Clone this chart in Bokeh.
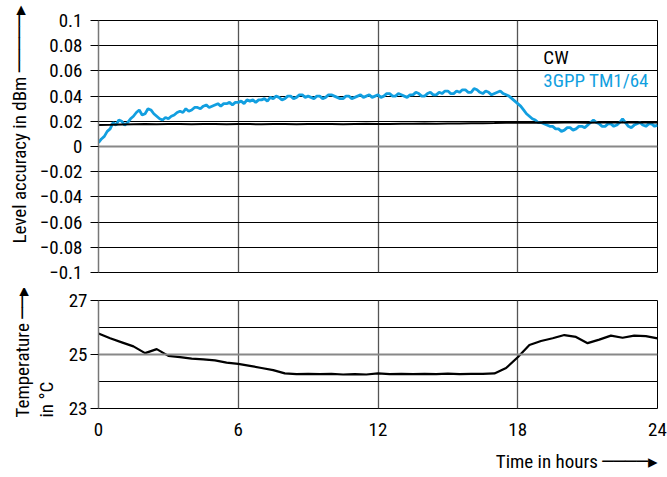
from bokeh.plotting import figure
from bokeh.layouts import column
from bokeh.models import FixedTicker, Span, Label, Range1d, Title
from bokeh.embed import file_html
from bokeh.resources import INLINE

# ---------------- data ----------------
# level accuracy, 3GPP TM1/64 (dB), one value every 1/8 hour
blue_v = [
    0.003, 0.006, 0.008, 0.012, 0.014, 0.019, 0.017, 0.021,   # 0 h
    0.020, 0.017, 0.019, 0.022, 0.024, 0.027, 0.029, 0.025,   # 1 h
    0.026, 0.030, 0.029, 0.026, 0.024, 0.022, 0.021, 0.023,   # 2 h
    0.022, 0.024, 0.025, 0.027, 0.028, 0.027, 0.030, 0.028,   # 3 h
    0.029, 0.031, 0.031, 0.030, 0.032, 0.033, 0.031, 0.032,   # 4 h
    0.033, 0.034, 0.032, 0.034, 0.034, 0.035, 0.033, 0.035,   # 5 h
    0.035, 0.036, 0.034, 0.037, 0.036, 0.037, 0.035, 0.037,   # 6 h
    0.037, 0.038, 0.036, 0.039, 0.038, 0.040, 0.039, 0.037,   # 7 h
    0.038, 0.040, 0.040, 0.038, 0.039, 0.041, 0.041, 0.039,   # 8 h
    0.040, 0.039, 0.038, 0.040, 0.040, 0.038, 0.039, 0.041,   # 9 h
    0.041, 0.040, 0.039, 0.038, 0.038, 0.040, 0.040, 0.038,   # 10 h
    0.039, 0.040, 0.041, 0.039, 0.040, 0.041, 0.039, 0.040,   # 11 h
    0.041, 0.039, 0.040, 0.042, 0.042, 0.040, 0.040, 0.042,   # 12 h
    0.041, 0.040, 0.039, 0.041, 0.041, 0.043, 0.042, 0.040,   # 13 h
    0.040, 0.042, 0.043, 0.041, 0.041, 0.043, 0.042, 0.044,   # 14 h
    0.044, 0.042, 0.042, 0.044, 0.043, 0.045, 0.045, 0.043,   # 15 h
    0.043, 0.046, 0.045, 0.043, 0.042, 0.044, 0.043, 0.041,   # 16 h
    0.042, 0.043, 0.044, 0.042, 0.041, 0.040, 0.038, 0.036,   # 17 h
    0.034, 0.032, 0.029, 0.026, 0.024, 0.022, 0.021, 0.019,   # 18 h
    0.019, 0.018, 0.017, 0.016, 0.016, 0.014, 0.014, 0.012,   # 19 h
    0.013, 0.015, 0.015, 0.013, 0.014, 0.016, 0.016, 0.015,   # 20 h
    0.017, 0.019, 0.021, 0.019, 0.018, 0.016, 0.016, 0.018,   # 21 h
    0.018, 0.016, 0.017, 0.019, 0.022, 0.019, 0.016, 0.015,   # 22 h
    0.017, 0.018, 0.019, 0.017, 0.016, 0.018, 0.018, 0.016,   # 23 h
    0.017]                                                    # 24 h
blue_t = [i / 8 for i in range(len(blue_v))]

# level accuracy, CW (dB), one value every 1/2 hour
cw_v = [0.0170, 0.0172, 0.0175, 0.0177, 0.0178, 0.0176, 0.0179, 0.0178, 0.0177, 0.0179,
        0.0178, 0.0177, 0.0179, 0.0178, 0.0176, 0.0178, 0.0179, 0.0177, 0.0178, 0.0179,
        0.0178, 0.0177, 0.0179, 0.0180, 0.0178, 0.0179, 0.0181, 0.0180, 0.0182, 0.0181,
        0.0183, 0.0182, 0.0184, 0.0185, 0.0186, 0.0188, 0.0190, 0.0189, 0.0190, 0.0189,
        0.0190, 0.0191, 0.0189, 0.0190, 0.0191, 0.0190, 0.0191, 0.0190, 0.0191]
cw_t = [i / 2 for i in range(len(cw_v))]

# temperature (deg C), one value every 1/2 hour
temp_v = [25.78, 25.60, 25.45, 25.30, 25.05, 25.20, 24.95, 24.90, 24.85, 24.82,
          24.78, 24.70, 24.65, 24.58, 24.50, 24.42, 24.30, 24.27, 24.28, 24.27,
          24.28, 24.26, 24.27, 24.26, 24.30, 24.27, 24.28, 24.27, 24.28, 24.27,
          24.29, 24.27, 24.28, 24.28, 24.30, 24.50, 24.90, 25.35, 25.50, 25.60,
          25.72, 25.65, 25.42, 25.55, 25.70, 25.62, 25.70, 25.68, 25.60]
temp_t = [i / 2 for i in range(len(temp_v))]

x_ticks = [0, 6, 12, 18, 24]
top_ticks = [-0.1, -0.08, -0.06, -0.04, -0.02, 0, 0.02, 0.04, 0.06, 0.08, 0.1]
top_tick_labels = ["\u22120.1", "\u22120.08", "\u22120.06", "\u22120.04", "\u22120.02", "0",
                   "0.02", "0.04", "0.06", "0.08", "0.1"]
temp_ticks = [23, 25, 27]
series_names = ["CW", "3GPP TM1/64"]

FONT = "Liberation Sans Narrow, Roboto Condensed, DejaVu Sans, sans-serif"
BLUE = "#129fe0"
FS = "19px"
ARROW = "\u2500" * 5 + "\u25b8"
X_ARROW = "\u2500" * 4 + "\u25b8"
SHORT_ARROW = "\u2500" * 2 + "\u25b8"


def style_axis(ax):
    ax.major_label_text_font = FONT
    ax.major_label_text_font_size = FS
    ax.major_label_text_color = "black"
    ax.minor_tick_line_color = None


def make_title(text, align, offset, standoff):
    return Title(text=text, align=align, offset=offset, standoff=standoff,
                 text_font=FONT, text_font_size=FS, text_font_style="normal",
                 text_color="black", text_line_height=1.05)


# ---------------- top plot ----------------
p1 = figure(frame_width=559, frame_height=252, min_border_left=98, min_border_right=10,
            min_border_top=20, min_border_bottom=16,
            x_range=Range1d(0, 24), y_range=Range1d(-0.1, 0.1),
            output_backend="svg", toolbar_location=None)
p1.outline_line_color = "black"
p1.xaxis.visible = False
p1.xgrid.ticker = FixedTicker(ticks=[6, 12, 18])
p1.xgrid.grid_line_color = "#555555"
p1.xgrid.grid_line_width = 1.3
p1.ygrid.ticker = FixedTicker(ticks=top_ticks)
p1.ygrid.grid_line_color = "black"
ya = p1.yaxis[0]
style_axis(ya)
ya.ticker = FixedTicker(ticks=top_ticks)
ya.major_label_overrides = {t: l for t, l in zip(top_ticks, top_tick_labels)}
ya.axis_line_color = "#777777"
ya.axis_line_width = 1.5
ya.major_tick_out = 8
ya.major_tick_in = 0
ya.major_label_standoff = 8
p1.add_layout(make_title("Level accuracy in dBm " + ARROW, "left", 29, 11), "left")
p1.add_layout(Span(location=0, dimension="width", line_color="#888888", line_width=2))

p1.line(blue_t, blue_v, line_color=BLUE, line_width=2.8)
p1.line(cw_t, cw_v, line_color="black", line_width=2)

p1.add_layout(Label(x=19.1, y=0.0707, text=series_names[0], text_font=FONT,
                    text_font_size=FS, text_color="black", text_baseline="middle"))
p1.add_layout(Label(x=19.1, y=0.0524, text=series_names[1], text_font=FONT,
                    text_font_size=FS, text_color=BLUE, text_baseline="middle"))

# ---------------- bottom plot ----------------
p2 = figure(frame_width=559, frame_height=108, min_border_left=98, min_border_right=10,
            min_border_top=12, min_border_bottom=69,
            x_range=Range1d(0, 24), y_range=Range1d(23, 27),
            output_backend="svg", toolbar_location=None)
p2.outline_line_color = "black"
p2.xgrid.ticker = FixedTicker(ticks=[6, 12, 18])
p2.xgrid.grid_line_color = "#555555"
p2.xgrid.grid_line_width = 1.3
p2.ygrid.ticker = FixedTicker(ticks=[24, 26])
p2.ygrid.grid_line_color = "black"
xa = p2.xaxis[0]
style_axis(xa)
xa.ticker = FixedTicker(ticks=x_ticks)
xa.axis_line_color = None
xa.major_tick_line_color = None
xa.major_tick_out = 0
xa.major_tick_in = 0
xa.major_label_standoff = 14
p2.add_layout(make_title("Time in hours " + X_ARROW, "right", 0, 19), "below")

yb = p2.yaxis[0]
style_axis(yb)
yb.ticker = FixedTicker(ticks=temp_ticks)
yb.axis_line_color = "#777777"
yb.axis_line_width = 1.5
yb.major_tick_out = 8
yb.major_tick_in = 0
yb.major_label_standoff = 3
p2.add_layout(make_title("Temperature " + SHORT_ARROW + "\nin \u00b0C", "left", -9, 15), "left")
p2.add_layout(Span(location=25, dimension="width", line_color="#888888", line_width=2))

p2.line(temp_t, temp_v, line_color="black", line_width=2.2)

layout = column(p1, p2, spacing=0)
open("out.html", "w").write(file_html(layout, INLINE))
